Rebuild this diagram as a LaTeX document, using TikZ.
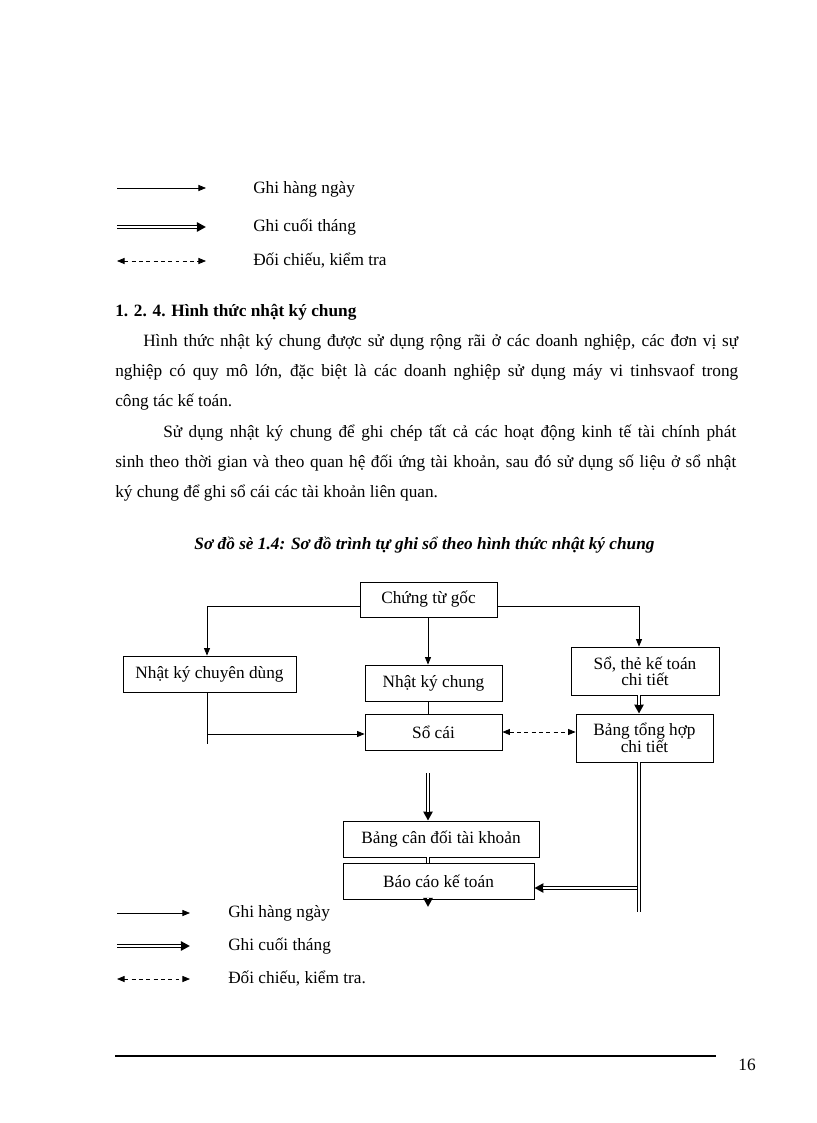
\documentclass[tikz,border=0pt]{standalone}
\usepackage{fontspec}
\setmainfont{Liberation Serif}
\usetikzlibrary{arrows.meta,positioning}

\begin{document}
\begin{tikzpicture}[x=0.75bp,y=-0.75bp, every node/.style={font=\fontsize{13}{15}\selectfont,inner sep=0pt}]
\tikzset{sobox/.style={draw,line width=0.6pt,align=center,font=\fontsize{13}{12}\selectfont},
  daily/.style={line width=0.6pt,-{Triangle[length=2mm,width=1.6mm]}},
  monthly/.style={line width=2.7pt,-{Triangle[length=2.4mm,width=2.4mm]},postaction={draw=white,line width=1.1pt,-,shorten >=2.4mm}},
  monthlyline/.style={line width=2.7pt,postaction={draw=white,line width=1.1pt}},
  check/.style={line width=0.6pt,dash pattern=on 3pt off 2.5pt,{Triangle[length=2mm,width=1.6mm]}-{Triangle[length=2mm,width=1.6mm]}}}
\useasboundingbox (0,0) rectangle (816,1123);
% legend at the top of the page
\coordinate (ta1) at (117,188); \coordinate (tb1) at (206,188);
\coordinate (ta2) at (117,227); \coordinate (tb2) at (206,227);
\coordinate (ta3) at (117,261); \coordinate (tb3) at (206,261);
\draw[daily] (ta1) -- (tb1);
\draw[monthly] (ta2) -- (tb2);
\draw[check] (ta3) -- (tb3);
\node[anchor=west] (tl1) at (253,189) {Ghi hàng ngày};
\node[anchor=west] (tl2) at (253,227) {Ghi cuối tháng};
\node[anchor=west] (tl3) at (253,261) {Đối chiếu, kiểm tra};
% heading and text
\node[anchor=west,font=\fontsize{13}{15}\selectfont\bfseries] (head) at (115,312) {1. 2. 4. Hình thức nhật ký chung};
\node[anchor=west] (p1) at (143,342) {\makebox[446.25bp][s]{Hình thức nhật ký chung được sử dụng rộng rãi ở các doanh nghiệp, các đơn vị sự}};
\node[anchor=west] (p2) at (115,372) {\makebox[467.25bp][s]{nghiệp có quy mô lớn, đặc biệt là các doanh nghiệp sử dụng máy vi tinhsvaof trong}};
\node[anchor=west] (p3) at (115,402) {công tác kế toán.};
\node[anchor=west] (p4) at (163,433) {\makebox[429.75bp][s]{Sử dụng nhật ký chung để ghi chép tất cả các hoạt động kinh tế tài chính phát}};
\node[anchor=west] (p5) at (115,463) {\makebox[465.75bp][s]{sinh theo thời gian và theo quan hệ đối ứng tài khoản, sau đó sử dụng số liệu ở sổ nhật}};
\node[anchor=west] (p6) at (115,493) {ký chung để ghi sổ cái các tài khoản liên quan.};
\node[font=\fontsize{13}{15}\selectfont\bfseries\itshape] (cap) at (424.5,545) {Sơ đồ sè 1.4: Sơ đồ trình tự ghi sổ theo hình thức nhật ký chung};
% boxes
\node[sobox,minimum width=102.75bp,minimum height=26.25bp] (goc) at (428.5,599.5) {Chứng từ gốc};
\node[sobox,minimum width=129.75bp,minimum height=27bp] (ckcd) at (209.5,674) {Nhật ký chuyên dùng};
\node[sobox,minimum width=102.75bp,minimum height=27bp] (nkc) at (433.5,683) {Nhật ký chung};
\node[sobox,minimum width=102.75bp,minimum height=27bp] (soc) at (433.5,732) {Sổ cái};
\node[sobox,minimum width=111bp,minimum height=36bp] (stct) at (645,671) {Sổ, thẻ kế toán\\chi tiết};
\node[sobox,minimum width=102.75bp,minimum height=36bp] (bth) at (644.5,738) {Bảng tổng hợp\\chi tiết};
\node[sobox,minimum width=147bp,minimum height=27bp] (bcd) at (441,839) {Bảng cân đối tài khoản};
\node[sobox,minimum width=143.25bp,minimum height=27bp] (bcao) at (438.5,881) {Báo cáo kế toán};
% connector points
\coordinate (brL) at (207,606);
\coordinate (brR) at (639,606);
\coordinate (spine) at (428,773);
\coordinate (ckcdEnd) at (207,744);
\coordinate (jL) at (207,734);
\coordinate (rJoin) at (639,888);
\coordinate (rEnd) at (639,912);
\coordinate (midEnd) at (428,907);
% connectors
\draw[daily] (goc.west |- brL) -| (ckcd.north -| brL);
\draw[daily] (goc.south -| spine) -- (nkc.north -| spine);
\draw[daily] (goc.east |- brR) -| (stct.north -| brR);
\draw[line width=0.6pt] (nkc.south -| spine) -- (soc.north -| spine);
\draw[line width=0.6pt] (ckcd.south -| ckcdEnd) -- (ckcdEnd);
\draw[daily] (jL) -- (soc.west |- jL);
\draw[check] (soc.east) -- (soc.east -| bth.west);
\draw[monthly] (stct.south -| brR) -- (bth.north -| brR);
\draw[monthly] (rJoin) -- (rJoin -| bcao.east);
\draw[monthlyline] (bth.south -| brR) -- (rEnd);
\draw[monthly] (spine) -- (bcd.north -| spine);
\draw[monthlyline] (bcd.south -| spine) -- (bcao.north -| spine);
\draw[monthly] (bcao.south -| spine) -- (midEnd);
% legend under the diagram
\coordinate (ba1) at (117,913); \coordinate (bb1) at (190,913);
\coordinate (ba2) at (117,946); \coordinate (bb2) at (190,946);
\coordinate (ba3) at (117,979); \coordinate (bb3) at (190,979);
\draw[daily] (ba1) -- (bb1);
\draw[monthly] (ba2) -- (bb2);
\draw[check] (ba3) -- (bb3);
\node[anchor=west] (bl1) at (228,913) {Ghi hàng ngày};
\node[anchor=west] (bl2) at (228,946) {Ghi cuối tháng};
\node[anchor=west] (bl3) at (228,979) {Đối chiếu, kiểm tra.};
% footer
\draw[line width=1.5bp] (115,1056) -- (716,1056);
\node (pg) at (747,1065) {16};
\end{tikzpicture}
\end{document}
